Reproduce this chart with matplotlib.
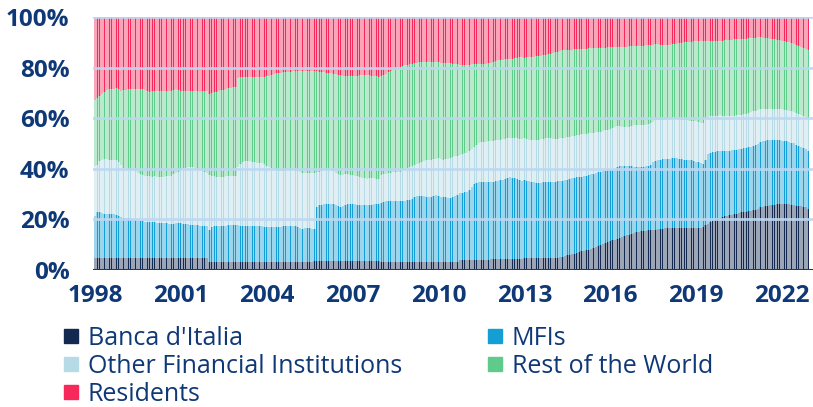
import numpy as np
import pandas as pd
import matplotlib
matplotlib.use("Agg")
import matplotlib.pyplot as plt
from matplotlib.lines import Line2D

# Monthly shares (%) of Italian government securities by holder, Jan 1998 - Dec 2022
# one row per year, Jan..Dec
bdi = [
    4.7, 4.7, 4.7, 4.7, 4.7, 4.7, 4.7, 4.7, 4.7, 4.7, 4.7, 4.7,  # 1998
    4.7, 4.7, 4.7, 4.7, 4.7, 4.7, 4.7, 4.7, 4.7, 4.7, 4.7, 4.7,  # 1999
    4.7, 4.7, 4.7, 4.7, 4.7, 4.7, 4.7, 4.7, 4.7, 4.7, 4.7, 4.7,  # 2000
    4.7, 4.7, 4.7, 4.7, 4.7, 4.7, 4.7, 4.7, 4.7, 4.7, 4.7, 4.7,  # 2001
    3.0, 3.0, 3.0, 3.0, 3.0, 3.0, 3.0, 3.0, 3.0, 3.0, 3.0, 3.0,  # 2002
    3.2, 3.2, 3.2, 3.2, 3.2, 3.2, 3.2, 3.2, 3.2, 3.2, 3.2, 3.2,  # 2003
    3.2, 3.2, 3.2, 3.2, 3.2, 3.2, 3.2, 3.2, 3.2, 3.2, 3.2, 3.2,  # 2004
    3.2, 3.2, 3.2, 3.2, 3.2, 3.2, 3.2, 3.2, 3.5, 3.5, 3.5, 3.5,  # 2005
    3.5, 3.5, 3.5, 3.5, 3.5, 3.5, 3.5, 3.5, 3.5, 3.5, 3.5, 3.5,  # 2006
    3.5, 3.5, 3.5, 3.5, 3.5, 3.5, 3.5, 3.5, 3.5, 3.5, 3.5, 3.5,  # 2007
    3.2, 3.2, 3.2, 3.2, 3.2, 3.2, 3.2, 3.2, 3.2, 3.2, 3.2, 3.2,  # 2008
    3.2, 3.2, 3.2, 3.2, 3.2, 3.2, 3.2, 3.2, 3.2, 3.2, 3.2, 3.2,  # 2009
    3.2, 3.2, 3.2, 3.2, 3.2, 3.2, 3.2, 3.2, 3.2, 4.1, 4.1, 4.1,  # 2010
    4.1, 4.1, 4.1, 4.1, 4.1, 4.1, 4.1, 4.1, 4.1, 4.1, 4.5, 4.5,  # 2011
    4.5, 4.5, 4.5, 4.5, 4.5, 4.5, 4.5, 4.5, 4.5, 4.5, 4.5, 4.5,  # 2012
    4.7, 4.7, 4.7, 4.7, 4.7, 4.7, 4.7, 4.7, 4.7, 4.7, 4.7, 4.7,  # 2013
    4.7, 4.7, 4.9, 5.1, 5.3, 5.5, 5.8, 6.0, 6.2, 6.4, 6.7, 7.0,  # 2014
    7.4, 7.6, 7.9, 8.1, 8.3, 8.6, 8.9, 9.3, 9.8, 10.2, 10.6, 10.9,  # 2015
    11.3, 11.8, 12.0, 12.4, 12.8, 13.1, 13.4, 13.7, 14.0, 14.4, 14.6, 14.9,  # 2016
    15.2, 15.3, 15.5, 15.6, 15.7, 15.8, 15.9, 16.0, 16.1, 16.2, 16.3, 16.5,  # 2017
    16.6, 16.6, 16.6, 16.6, 16.6, 16.6, 16.6, 16.6, 16.6, 16.6, 16.6, 16.6,  # 2018
    16.6, 16.6, 16.6, 17.0, 17.6, 18.3, 18.9, 19.5, 19.9, 20.3, 20.7, 21.0,  # 2019
    21.3, 21.5, 21.7, 21.9, 22.1, 22.3, 22.6, 22.8, 23.0, 23.1, 23.2, 23.4,  # 2020
    23.6, 23.8, 24.3, 24.9, 25.1, 25.2, 25.4, 25.5, 25.7, 25.8, 25.9, 26.0,  # 2021
    26.1, 26.1, 26.1, 26.0, 25.8, 25.6, 25.4, 25.3, 25.2, 25.1, 24.9, 24.2,  # 2022
]

mfi = [
    16.6, 18.3, 18.2, 17.8, 17.4, 17.3, 17.3, 17.6, 17.5, 17.1, 16.6, 16.3,
    16.0, 15.9, 15.7, 15.6, 15.4, 15.2, 15.0, 14.8, 14.6, 14.4, 14.2, 14.2,
    14.2, 14.1, 14.0, 13.9, 13.9, 13.8, 13.7, 13.6, 13.6, 13.6, 13.7, 13.7,
    13.7, 13.6, 13.5, 13.3, 13.2, 13.1, 13.1, 12.9, 12.8, 12.7, 12.6, 12.5,
    12.8, 14.1, 14.2, 14.3, 14.4, 14.4, 14.4, 14.5, 14.6, 14.7, 14.8, 14.9,
    14.5, 14.3, 14.3, 14.3, 14.3, 14.3, 14.3, 14.3, 14.2, 14.1, 14.0, 13.9,
    13.8, 13.8, 13.8, 13.8, 13.8, 13.8, 13.8, 14.0, 14.2, 14.3, 14.2, 14.1,
    14.0, 13.7, 13.4, 13.2, 13.3, 13.4, 13.3, 13.2, 12.9, 21.4, 22.0, 22.3,
    22.4, 22.4, 22.4, 22.4, 22.4, 22.2, 21.9, 21.6, 21.9, 22.3, 22.5, 22.7,
    22.7, 22.5, 22.3, 22.2, 22.2, 22.2, 22.2, 22.2, 22.2, 22.4, 22.5, 22.6,
    23.4, 23.8, 23.9, 23.9, 23.9, 23.9, 24.0, 24.1, 24.2, 24.2, 24.2, 24.4,
    24.6, 24.8, 25.6, 25.9, 25.9, 25.9, 25.9, 25.8, 25.6, 25.8, 26.1, 26.3,
    26.2, 25.8, 25.6, 25.5, 25.4, 25.4, 25.6, 26.1, 26.6, 26.3, 26.5, 26.6,
    26.7, 27.6, 28.7, 29.8, 30.1, 30.5, 30.5, 30.6, 30.6, 30.6, 30.2, 30.3,
    30.5, 30.8, 31.0, 31.2, 31.4, 31.7, 32.2, 32.0, 31.8, 31.5, 31.1, 30.8,
    30.9, 30.6, 30.4, 30.1, 29.9, 29.7, 29.6, 29.8, 29.9, 29.9, 30.0, 30.0,
    30.1, 30.2, 30.1, 29.9, 29.9, 29.9, 29.7, 29.9, 30.1, 30.1, 29.9, 29.7,
    29.5, 29.5, 29.3, 29.4, 29.5, 29.3, 29.3, 29.3, 28.9, 28.8, 28.6, 28.5,
    28.3, 27.8, 28.0, 28.2, 28.2, 28.2, 27.9, 27.5, 27.2, 26.6, 26.3, 26.0,
    25.7, 25.6, 25.4, 25.4, 25.6, 25.8, 26.6, 27.0, 27.2, 27.4, 27.4, 27.3,
    27.3, 27.4, 27.5, 27.6, 27.6, 27.4, 27.2, 27.0, 26.9, 26.8, 26.7, 26.5,
    26.2, 26.0, 25.6, 25.0, 26.0, 27.6, 27.4, 27.1, 26.9, 26.7, 26.4, 26.1,
    25.8, 25.7, 25.5, 25.4, 25.3, 25.2, 25.1, 25.0, 25.1, 25.2, 25.3, 25.4,
    25.6, 25.7, 25.5, 25.6, 25.8, 25.9, 25.8, 25.8, 25.7, 25.6, 25.4, 25.2,
    25.0, 24.9, 24.7, 24.6, 24.5, 24.5, 24.2, 23.6, 23.4, 23.2, 23.1, 22.9,
]

ofi = [
    19.7, 18.6, 20.1, 21.1, 21.8, 21.9, 21.6, 21.1, 21.3, 21.8, 21.2, 20.6,
    19.6, 19.4, 19.4, 19.3, 19.5, 19.1, 18.8, 18.5, 18.3, 18.2, 18.1, 18.1,
    17.9, 18.2, 18.1, 18.0, 18.0, 18.3, 18.6, 18.9, 18.9, 19.5, 20.0, 20.5,
    21.2, 21.9, 22.3, 22.9, 23.0, 22.8, 22.5, 22.5, 22.4, 22.0, 21.6, 21.1,
    21.6, 20.1, 19.8, 19.4, 19.3, 19.4, 19.5, 19.5, 19.4, 19.4, 19.4, 19.4,
    23.1, 24.3, 25.0, 25.5, 25.7, 25.5, 25.3, 25.1, 25.0, 25.0, 25.0, 24.7,
    24.2, 23.8, 23.3, 22.8, 22.5, 22.3, 22.2, 22.1, 22.1, 22.1, 22.1, 22.1,
    22.1, 22.1, 22.0, 21.9, 21.8, 21.7, 21.8, 21.9, 22.0, 13.7, 13.1, 13.2,
    13.7, 13.7, 13.7, 13.6, 13.1, 12.6, 12.6, 12.5, 12.3, 12.1, 11.8, 11.4,
    11.2, 11.2, 11.2, 11.0, 10.8, 10.6, 10.4, 10.5, 10.6, 10.3, 10.0, 9.7,
    10.8, 10.9, 11.0, 11.2, 11.3, 11.5, 11.5, 11.5, 11.5, 12.0, 12.5, 12.8,
    12.9, 13.2, 12.8, 12.8, 13.1, 13.5, 13.9, 14.3, 14.6, 14.6, 14.4, 14.4,
    14.7, 14.9, 14.8, 15.0, 15.4, 15.7, 15.7, 15.6, 15.4, 15.1, 15.2, 15.4,
    15.6, 15.2, 15.2, 14.9, 15.3, 15.7, 15.9, 15.9, 16.0, 16.1, 16.2, 16.2,
    16.2, 16.0, 15.9, 15.9, 15.9, 15.9, 15.4, 15.7, 15.9, 16.0, 16.2, 16.4,
    16.4, 16.4, 16.3, 16.5, 16.6, 16.8, 17.1, 17.1, 17.2, 17.4, 17.4, 17.3,
    17.0, 16.8, 16.8, 17.0, 16.9, 16.9, 17.0, 16.8, 16.5, 16.5, 16.6, 16.7,
    16.7, 16.6, 16.6, 16.5, 16.4, 16.4, 16.2, 16.0, 16.0, 16.0, 16.1, 16.1,
    16.2, 16.5, 16.5, 16.4, 15.9, 15.4, 15.4, 15.5, 15.5, 16.0, 16.3, 16.5,
    16.5, 16.5, 16.5, 16.5, 16.3, 16.4, 16.1, 16.1, 15.8, 15.5, 15.4, 15.5,
    15.7, 15.6, 15.5, 15.4, 15.4, 15.5, 15.5, 15.6, 15.6, 15.6, 15.6, 15.7,
    15.9, 15.9, 16.0, 16.0, 16.4, 14.6, 14.4, 14.2, 14.1, 14.0, 14.0, 13.9,
    13.8, 13.6, 13.6, 13.6, 13.6, 13.6, 13.5, 13.5, 13.4, 13.5, 13.5, 13.5,
    13.5, 13.5, 13.5, 13.1, 12.8, 12.6, 12.5, 12.4, 12.3, 12.3, 12.4, 12.5,
    12.5, 12.4, 12.4, 12.4, 12.5, 12.4, 12.6, 12.9, 12.7, 12.5, 12.3, 12.4,
]

rest_world = [
    26.0, 26.4, 25.6, 25.9, 26.6, 27.3, 27.8, 28.2, 28.2, 28.2, 29.0, 29.3,
    30.7, 31.2, 31.6, 31.8, 31.9, 32.6, 33.1, 33.6, 33.8, 33.7, 33.6, 33.5,
    33.8, 33.8, 34.1, 34.3, 34.3, 34.0, 33.8, 33.6, 33.6, 33.2, 33.0, 32.3,
    31.3, 30.6, 30.3, 29.9, 29.9, 30.2, 30.4, 30.5, 30.6, 31.2, 31.9, 32.3,
    32.2, 32.7, 33.3, 33.8, 34.1, 34.2, 34.4, 34.6, 34.8, 34.9, 35.0, 34.9,
    35.2, 34.4, 33.9, 33.4, 33.2, 33.4, 33.6, 33.8, 34.0, 34.1, 34.2, 34.6,
    35.3, 36.0, 36.9, 37.7, 38.2, 38.6, 38.8, 38.8, 38.7, 38.7, 38.9, 39.1,
    39.3, 39.7, 40.2, 40.5, 40.5, 40.5, 40.5, 40.5, 40.3, 40.0, 39.8, 39.3,
    38.6, 38.4, 38.3, 38.3, 38.5, 39.0, 39.1, 39.3, 39.1, 38.8, 38.8, 39.0,
    39.2, 39.5, 39.8, 40.2, 40.5, 40.8, 40.9, 40.7, 40.5, 40.6, 40.5, 40.4,
    39.4, 39.2, 39.5, 39.9, 40.2, 40.4, 40.8, 41.2, 41.5, 41.3, 41.1, 40.8,
    40.7, 40.4, 40.2, 40.1, 39.9, 39.5, 39.1, 38.8, 38.7, 38.5, 38.4, 38.2,
    38.0, 38.1, 38.4, 38.2, 37.8, 37.4, 37.1, 36.5, 36.1, 35.7, 35.3, 35.0,
    34.7, 34.3, 33.3, 32.6, 31.9, 31.1, 30.9, 30.9, 30.9, 30.9, 31.1, 31.4,
    31.6, 31.6, 31.6, 31.5, 31.5, 31.3, 31.4, 31.4, 31.5, 31.8, 32.2, 32.4,
    31.9, 32.3, 32.7, 32.9, 33.1, 33.2, 33.2, 33.1, 33.1, 33.0, 33.2, 33.5,
    33.9, 34.3, 34.5, 34.6, 34.7, 34.7, 34.5, 34.4, 34.3, 34.2, 34.1, 33.9,
    33.8, 33.8, 33.7, 33.6, 33.5, 33.5, 33.4, 33.2, 33.2, 32.9, 32.6, 32.5,
    32.2, 31.9, 31.6, 31.1, 31.3, 31.6, 31.6, 31.6, 31.7, 31.4, 31.2, 31.0,
    31.1, 31.2, 31.3, 31.3, 31.3, 30.9, 30.4, 30.1, 30.1, 30.0, 29.9, 29.6,
    29.2, 29.4, 29.6, 29.7, 29.9, 30.2, 30.6, 30.8, 31.0, 31.2, 31.4, 31.6,
    31.7, 32.0, 32.3, 32.6, 30.6, 30.2, 30.0, 29.9, 29.8, 29.7, 29.6, 29.7,
    29.9, 30.1, 30.2, 30.2, 30.2, 30.1, 30.1, 30.0, 29.9, 29.7, 29.6, 29.4,
    29.1, 28.9, 28.7, 28.4, 28.2, 28.1, 28.0, 27.8, 27.6, 27.5, 27.3, 27.2,
    27.1, 27.1, 27.1, 27.0, 26.8, 26.8, 26.7, 26.7, 26.8, 26.9, 27.0, 27.3,
]

residents = [
    33.0, 32.0, 31.4, 30.5, 29.5, 28.8, 28.6, 28.4, 28.3, 28.2, 28.5, 29.1,
    29.0, 28.8, 28.6, 28.6, 28.5, 28.4, 28.4, 28.4, 28.6, 29.0, 29.4, 29.5,
    29.4, 29.2, 29.1, 29.1, 29.1, 29.2, 29.2, 29.2, 29.2, 29.0, 28.6, 28.8,
    29.1, 29.2, 29.2, 29.2, 29.2, 29.2, 29.3, 29.4, 29.5, 29.4, 29.2, 29.4,
    30.4, 30.1, 29.7, 29.5, 29.2, 29.0, 28.7, 28.4, 28.2, 28.0, 27.8, 27.8,
    24.0, 23.8, 23.6, 23.6, 23.6, 23.6, 23.6, 23.6, 23.6, 23.6, 23.6, 23.6,
    23.5, 23.2, 22.8, 22.5, 22.3, 22.1, 22.0, 21.9, 21.8, 21.7, 21.6, 21.5,
    21.4, 21.3, 21.2, 21.2, 21.2, 21.2, 21.2, 21.2, 21.3, 21.4, 21.6, 21.7,
    21.8, 22.0, 22.1, 22.2, 22.5, 22.7, 22.9, 23.1, 23.2, 23.3, 23.4, 23.4,
    23.4, 23.3, 23.2, 23.1, 23.0, 22.9, 23.0, 23.1, 23.2, 23.2, 23.5, 23.8,
    23.2, 22.9, 22.4, 21.8, 21.4, 21.0, 20.5, 20.0, 19.6, 19.3, 19.0, 18.8,
    18.6, 18.4, 18.2, 18.0, 17.9, 17.9, 17.9, 17.9, 17.9, 17.9, 17.9, 17.9,
    17.9, 18.0, 18.0, 18.1, 18.2, 18.3, 18.4, 18.6, 18.7, 18.8, 18.9, 18.9,
    18.9, 18.8, 18.7, 18.6, 18.6, 18.6, 18.6, 18.5, 18.4, 18.3, 18.0, 17.6,
    17.2, 17.1, 17.0, 16.9, 16.7, 16.6, 16.5, 16.4, 16.3, 16.2, 16.0, 15.9,
    16.1, 16.0, 15.9, 15.8, 15.7, 15.6, 15.4, 15.3, 15.1, 15.0, 14.7, 14.5,
    14.3, 14.0, 13.7, 13.4, 13.2, 13.0, 13.0, 12.9, 12.9, 12.8, 12.7, 12.7,
    12.6, 12.5, 12.5, 12.4, 12.3, 12.2, 12.2, 12.2, 12.1, 12.1, 12.1, 12.0,
    12.0, 12.0, 11.9, 11.9, 11.8, 11.7, 11.7, 11.7, 11.6, 11.6, 11.6, 11.6,
    11.5, 11.4, 11.3, 11.2, 11.1, 11.1, 11.0, 10.8, 10.8, 10.9, 11.0, 11.1,
    11.2, 11.0, 10.8, 10.7, 10.5, 10.3, 10.1, 10.0, 9.9, 9.8, 9.7, 9.6,
    9.6, 9.5, 9.5, 9.4, 9.4, 9.3, 9.3, 9.3, 9.3, 9.3, 9.3, 9.3,
    9.2, 9.1, 9.0, 8.9, 8.8, 8.8, 8.7, 8.7, 8.6, 8.5, 8.4, 8.3,
    8.2, 8.1, 8.0, 8.0, 8.1, 8.2, 8.3, 8.5, 8.7, 8.8, 9.0, 9.1,
    9.3, 9.5, 9.7, 10.0, 10.4, 10.7, 11.1, 11.5, 11.9, 12.3, 12.7, 13.2,
]

labels = ["Banca d'Italia", "MFIs", "Other Financial Institutions",
          "Rest of the World", "Residents"]
colors = ["#13294f", "#139fd6", "#b7dbe6", "#5ecb8a", "#f7285a"]
tick_years = ["1998", "2001", "2004", "2007", "2010", "2013", "2016", "2019", "2022"]

navy = "#0f3877"
plt.rcParams["font.family"] = ["Open Sans", "DejaVu Sans"]

df = pd.DataFrame({lab: vals for lab, vals in
                   zip(labels, [bdi, mfi, ofi, rest_world, residents])})
x = np.arange(len(df))

fig = plt.figure(figsize=(8.13, 4.07), dpi=100)
ax = fig.add_axes([0.1144, 0.3366, 0.8856, 0.6216])

bottom = np.zeros(len(df))
for lab, col in zip(labels, colors):
    vals = df[lab].values
    # light tinted fill plus thin saturated stripes
    ax.bar(x, vals, bottom=bottom, width=1.0, color=col, alpha=0.42,
           linewidth=0, zorder=2)
    ax.bar(x, vals, bottom=bottom, width=0.28, color=col,
           linewidth=0, zorder=3)
    bottom = bottom + vals

ax.set_xlim(-0.8, 301)
ax.set_ylim(0, 100)
for yv in [20, 40, 60, 80, 100]:
    ax.axhline(yv, color="#bcd8f2", lw=2, zorder=4, alpha=0.9)
ax.axhline(0, color="#1a3a75", lw=2.2, zorder=5)

ax.set_yticks([0, 20, 40, 60, 80, 100])
ax.set_yticklabels(["0%", "20%", "40%", "60%", "80%", "100%"])
ax.set_xticks([tick_years.index(y) * 36 for y in tick_years])
ax.set_xticklabels(tick_years)
ax.tick_params(axis="both", length=0, labelsize=17.5, labelcolor=navy)
ax.tick_params(axis="y", pad=17)
ax.tick_params(axis="x", pad=10)
for t in ax.get_xticklabels() + ax.get_yticklabels():
    t.set_fontweight("bold")
for s in ax.spines.values():
    s.set_visible(False)

order = [0, 2, 4, 1, 3]
handles = [Line2D([], [], marker="s", ls="", markersize=10.5,
                  color=colors[i]) for i in order]
fig.legend(handles, [labels[i] for i in order], ncol=2, loc="upper left",
           bbox_to_anchor=(0.075, 0.199), frameon=False,
           fontsize=18, labelcolor=navy, handletextpad=0.28,
           labelspacing=0.12, columnspacing=3.3, borderaxespad=0,
           borderpad=0, handlelength=0.8)

fig.savefig("out.png", dpi=100)
